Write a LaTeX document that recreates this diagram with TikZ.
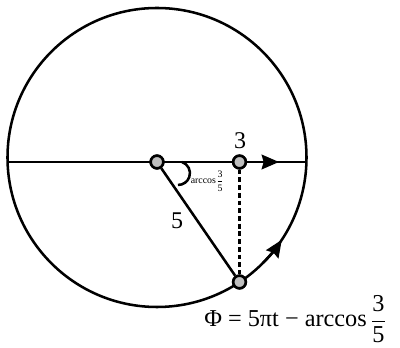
\documentclass[tikz,border=0pt]{standalone}
\usepackage{fontspec}
\setmainfont{Liberation Serif}
\usetikzlibrary{arrows.meta}
\begin{document}
\begin{tikzpicture}[x=0.75pt,y=-0.75pt,
  ln/.style={line width=1.9pt},
  dot/.style={circle,draw,line width=1.9pt,fill=black!25,minimum size=9.5pt,inner sep=0pt},
  tip/.style={-{Stealth[length=13pt,width=11pt,inset=1.5pt]}},
  big/.style={font=\fontsize{18}{20}\selectfont,inner sep=0pt},
  small/.style={font=\fontsize{7.4}{8}\selectfont,inner sep=0pt}]
\useasboundingbox (0,0) rectangle (400,348);
\coordinate (C) at (157,157.5);
\coordinate (L) at (7.6,162);
\coordinate (R) at (306.4,162);
\coordinate (T) at (279,162);
\draw[ln] (C) circle[radius=149.5];
\draw[ln] (L) -- (R);
\draw[ln,tip] (C) ++(45:149.5) arc[start angle=45,end angle=33.4,radius=149.5];
\node[dot] (O) at (157,162) {};
\node[dot] (A) at (239.5,162) {};
\node[dot] (P) at (239.5,282) {};
\draw[ln,tip] (A) -- (T);
\draw[ln] (O) -- (P);
\draw[ln,dash pattern=on 3.6pt off 2.2pt] (A) -- (P);
\draw[ln] (182,162) arc[start angle=-71,end angle=91,radius=11.8];
\node[dot] at (O) {};
\node[dot] at (A) {};
\node[dot] at (P) {};
\node[big] (l3) at (240,141) {3};
\node[big] (l5) at (177,221) {5};
\node[small,anchor=base west] (ac) at (190.5,184) {arccos$\displaystyle\frac{\mbox{3}}{\mbox{5}}$};
\node[font=\fontsize{18.2}{20}\selectfont,inner sep=0pt,anchor=base west] (f) at (204,327) {Φ = 5πt − arccos\,$\displaystyle\frac{\mbox{3}}{\mbox{5}}$};
\end{tikzpicture}
\end{document}
